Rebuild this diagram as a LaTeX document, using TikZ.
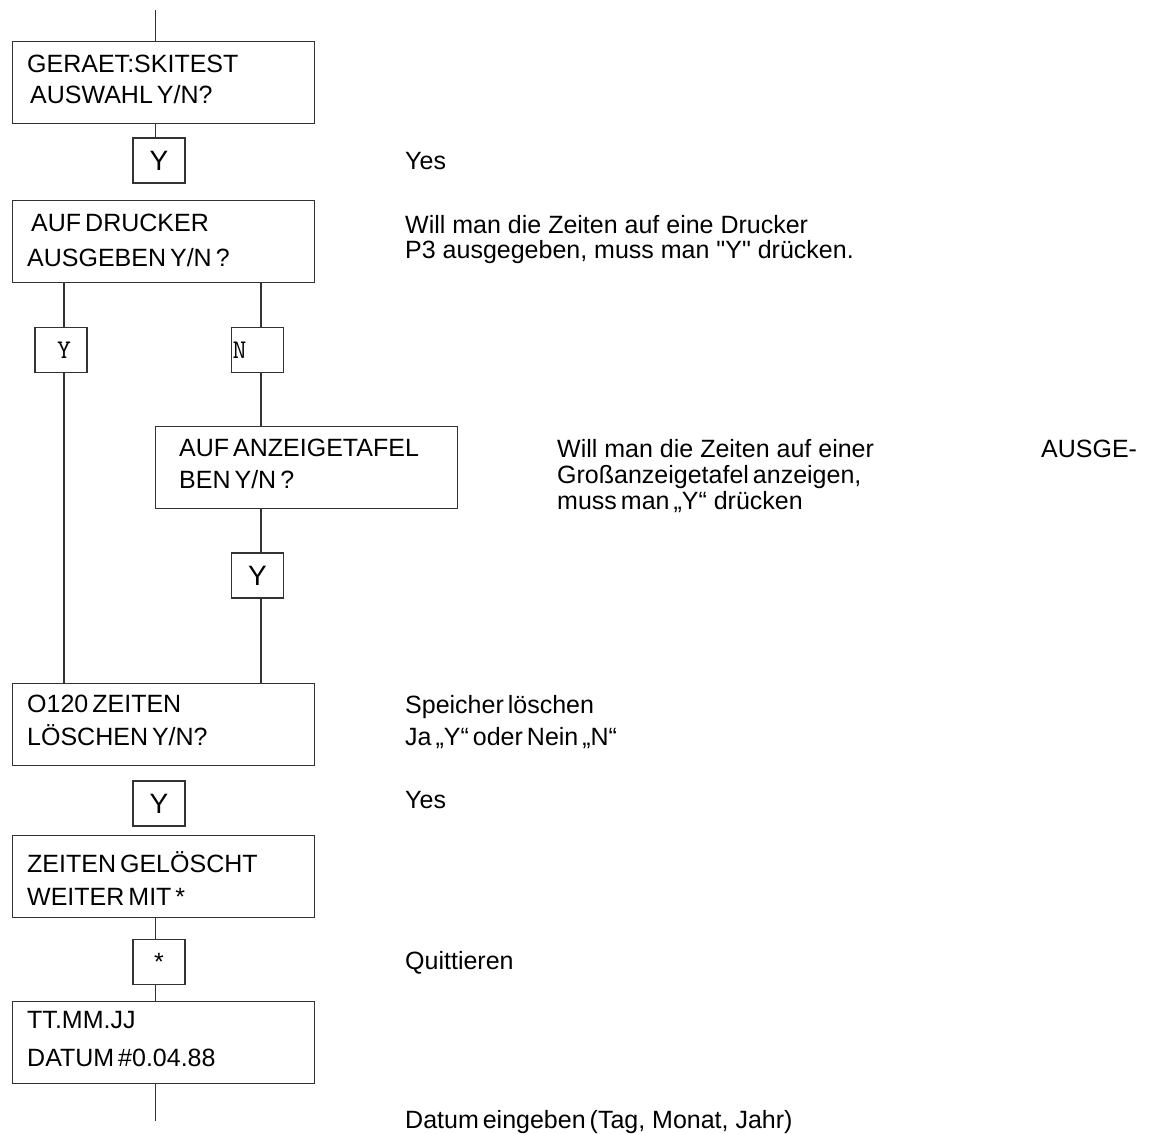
\documentclass[tikz,border=0pt]{standalone}
\usepackage{fontspec}
\setmainfont{Liberation Sans}
\newfontfamily\qfont{Liberation Sans}[Ligatures=TeXOff]
\newcommand\tsp{\hspace{4pt}}
\newcommand\sq{{\qfont"}}
\newcommand\txtlines[2]{\vtop{\baselineskip=#1pt\lineskiplimit=-50pt #2}}
\begin{document}
\begin{tikzpicture}[x=1pt,y=-1pt,
  ln/.style={draw=black!80, line width=1.1pt},
  bigbox/.style={draw=black!80, line width=1.1pt, rectangle, inner sep=0pt,
    anchor=north west, minimum width=302pt, minimum height=82pt},
  keybox/.style={draw=black!80, line width=1.1pt, rectangle, inner sep=0pt,
    minimum width=52pt, minimum height=45pt, font=\fontsize{28}{30}\selectfont},
  monokey/.style={keybox, font=\ttfamily\fontsize{27}{29}\selectfont},
  btxt/.style={anchor=base west, inner sep=0pt, font=\fontsize{25}{30}\selectfont},
]
\useasboundingbox (0,0) rectangle (1150,1133);

% column coordinates
\coordinate (top) at (155.5,10);
\coordinate (bot) at (155.5,1121);
\coordinate (cl) at (64,0);
\coordinate (cr) at (261,0);

% boxes
\node[bigbox] (b1) at (12,41) {};
\node[keybox] (k1) at (159,160.5) {Y};
\node[bigbox] (b2) at (12,199.5) {};
\node[monokey] (yL) at (61,350) {\hspace{6pt}\raisebox{-2pt}{Y}};
\node[monokey] (nL) at (257.5,350) {\makebox[50pt][l]{\raisebox{-2pt}{N}}};
\node[bigbox] (b3) at (155,426) {};
\node[keybox] (k3) at (257.5,575.5) {Y};
\node[bigbox] (b4) at (12,683) {};
\node[keybox] (k4) at (159,803.5) {Y};
\node[bigbox] (b5) at (12,834.5) {};
\node[keybox, font=\fontsize{25}{30}\selectfont] (k5) at (159,962) {*};
\node[bigbox] (b6) at (12,1001) {};

% box texts
\node[btxt] (t1) at (27,72) {\txtlines{31}{\hbox{GERAET:SKITEST}\hbox{\hspace{3pt}AUSWAHL\tsp Y/N?}}};
\node[btxt] (t2) at (31,231) {\txtlines{35}{\hbox{AUF\tsp DRUCKER}\hbox{\hspace{-4pt}AUSGEBEN\tsp Y/N\tsp ?}}};
\node[btxt] (t3) at (179,456) {\txtlines{32}{\hbox{AUF\tsp ANZEIGETAFEL}\hbox{BEN\tsp Y/N\tsp ?}}};
\node[btxt] (t4) at (27,712) {\txtlines{33}{\hbox{O120\tsp ZEITEN}\hbox{LÖSCHEN\tsp Y/N?}}};
\node[btxt] (t5) at (27,872) {\txtlines{33}{\hbox{ZEITEN\tsp GELÖSCHT}\hbox{WEITER\tsp MIT\tsp *}}};
\node[btxt] (t6) at (27,1028) {\txtlines{38}{\hbox{TT.MM.JJ}\hbox{DATUM\tsp\#0.04.88}}};

% connectors
\draw[ln] (top) -- (b1.north -| top);
\draw[ln] (b1.south -| top) -- (k1.north -| top);
\draw[ln] (b2.south -| cl) -- (yL.north -| cl);
\draw[ln] (yL.south -| cl) -- (b4.north -| cl);
\draw[ln] (b2.south -| cr) -- (nL.north -| cr);
\draw[ln] (nL.south -| cr) -- (b3.north -| cr);
\draw[ln] (b3.south -| cr) -- (k3.north -| cr);
\draw[ln] (k3.south -| cr) -- (b4.north -| cr);
\draw[ln] (b5.south -| top) -- (k5.north -| top);
\draw[ln] (k5.south -| top) -- (b6.north -| top);
\draw[ln] (b6.south -| bot) -- (bot);

% right-hand explanations
\node[btxt] (r1) at (405,169) {Yes};
\node[btxt] (r2) at (405,233) {\txtlines{25}{\hbox{Will man die Zeiten auf eine Drucker}\hbox{P3 ausgegeben, muss man \sq Y\sq\ drücken.}}};
\node[btxt] (r3) at (557,457) {\txtlines{26}{\hbox{Will man die Zeiten auf einer}\hbox{Großanzeigetafel\tsp anzeigen,}\hbox{muss\tsp man\tsp „Y“ drücken}}};
\node[btxt] (r4) at (1041,457) {AUSGE-};
\node[btxt] (r5) at (405,713) {\txtlines{32}{\hbox{Speicher\tsp löschen}\hbox{Ja\tsp „Y“\tsp oder\tsp Nein\tsp „N“}}};
\node[btxt] (r6) at (405,808) {Yes};
\node[btxt] (r7) at (405,969) {Quittieren};
\node[btxt] (r8) at (405,1128) {Datum\tsp eingeben\tsp (Tag, Monat, Jahr)};
\end{tikzpicture}
\end{document}
